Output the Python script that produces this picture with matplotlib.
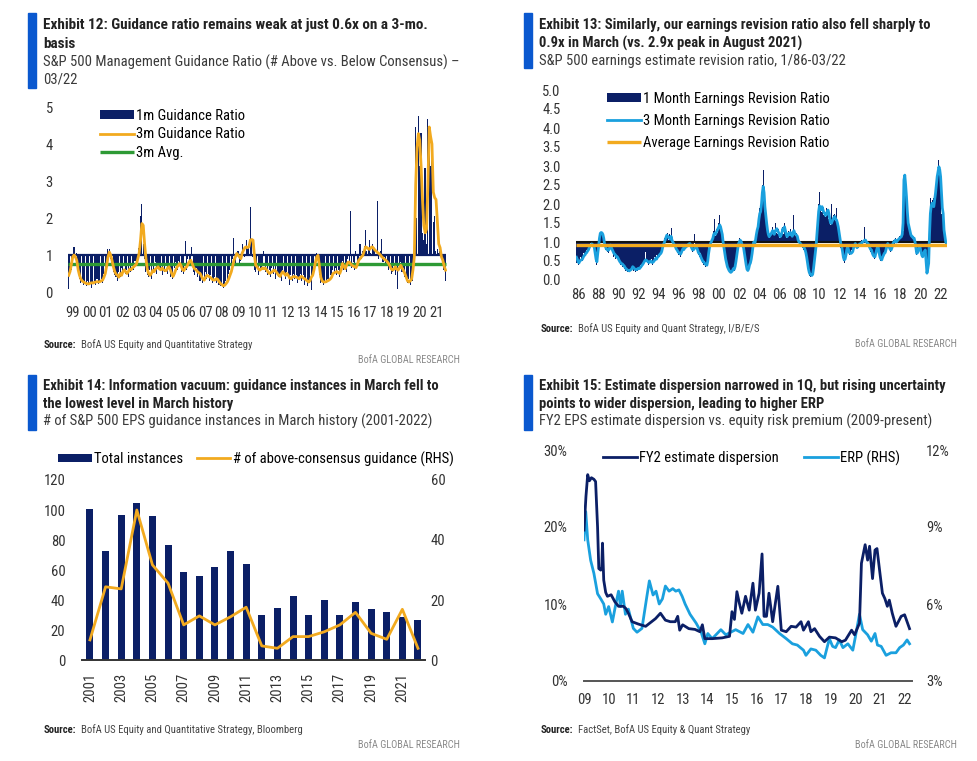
import numpy as np
import matplotlib
matplotlib.use('Agg')
import matplotlib.pyplot as plt
from matplotlib import font_manager
from matplotlib.patches import Rectangle

W, H = 978, 761

# ---------------- Exhibit 12: guidance ratio, monthly 1999-01 .. 2022-03
guide_1m = [
    0.09, 0.45, 0.60, 0.85, 1.22, 0.95, 1.05, 0.70, 0.35, 0.25, 0.30, 0.20,  # 99
    0.25, 0.15, 0.30, 0.20, 0.28, 0.12, 0.25, 0.30, 0.18, 0.35, 0.22, 0.30,  # 00
    0.35, 0.25, 0.50, 0.45, 0.85, 1.15, 1.17, 0.90, 0.70, 0.55, 0.45, 0.40,  # 01
    0.30, 0.55, 0.40, 0.65, 0.45, 0.70, 0.50, 0.60, 0.40, 0.75, 0.55, 0.70,  # 02
    0.60, 0.85, 0.70, 1.00, 1.20, 2.05, 2.38, 1.30, 0.90, 0.55, 0.45, 0.40,  # 03
    0.60, 0.35, 0.70, 0.55, 0.80, 0.50, 0.75, 0.60, 0.65, 0.45, 0.70, 0.55,  # 04
    0.70, 0.50, 0.75, 0.40, 0.55, 0.35, 0.65, 0.80, 0.60, 0.85, 0.70, 0.55,  # 05
    0.65, 0.50, 1.38, 0.60, 0.90, 0.75, 0.85, 1.22, 0.55, 0.45, 0.65, 0.40,  # 06
    0.55, 0.30, 0.50, 0.25, 0.40, 0.55, 0.35, 0.50, 0.30, 0.45, 0.25, 0.35,  # 07
    0.40, 0.25, 0.35, 0.20, 0.15, 0.25, 0.10, 0.20, 0.30, 0.35, 0.50, 0.60,  # 08
    0.70, 0.90, 1.47, 0.75, 1.00, 1.10, 0.70, 0.85, 1.30, 1.00, 0.95, 1.40,  # 09
    1.15, 1.30, 2.30, 1.40, 0.95, 0.60, 0.55, 0.75, 0.45, 0.70, 0.60, 0.75,  # 10
    1.10, 0.55, 0.70, 0.45, 0.60, 0.40, 0.65, 0.50, 0.70, 0.35, 0.55, 0.40,  # 11
    0.50, 0.30, 0.60, 0.45, 0.35, 0.55, 0.40, 0.20, 0.45, 0.30, 0.50, 0.35,  # 12
    0.45, 0.25, 0.40, 0.50, 0.30, 0.45, 0.20, 0.35, 0.15, 0.30, 0.25, 0.05,  # 13
    0.50, 0.70, 0.85, 1.05, 0.95, 0.45, 0.25, 0.35, 0.20, 0.30, 0.25, 0.35,  # 14
    0.30, 0.45, 0.35, 0.60, 0.50, 0.65, 0.45, 0.60, 0.40, 0.75, 0.85, 0.60,  # 15
    0.70, 0.55, 0.90, 0.75, 2.18, 0.65, 0.80, 0.60, 1.10, 0.70, 0.85, 1.30,  # 16
    0.90, 1.10, 1.25, 1.68, 1.10, 1.20, 1.40, 1.05, 1.30, 1.15, 1.20, 1.00,  # 17
    2.45, 0.90, 1.10, 1.44, 0.80, 0.95, 0.70, 0.85, 0.60, 0.75, 0.50, 0.55,  # 18
    0.70, 0.45, 0.75, 0.09, 0.60, 0.80, 0.55, 0.65, 0.40, 0.30, 0.25, 0.35,  # 19
    0.20, 0.45, 0.30, 1.00, 4.45, 2.00, 4.77, 3.40, 4.30, 1.60, 1.40, 3.36,  # 20
    1.30, 4.68, 4.50, 3.40, 4.05, 1.90, 2.05, 1.10, 1.15, 1.05, 1.10, 1.00,  # 21
    0.70, 0.60, 0.30,                                                        # 22
]
guide_3m = [
    0.45, 0.55, 0.75, 0.95, 1.00, 0.95, 0.85, 0.60, 0.45, 0.35, 0.30, 0.27,
    0.25, 0.23, 0.22, 0.22, 0.24, 0.25, 0.24, 0.26, 0.27, 0.28, 0.27, 0.28,
    0.30, 0.32, 0.40, 0.50, 0.70, 0.95, 1.08, 1.00, 0.85, 0.68, 0.55, 0.48,
    0.45, 0.40, 0.50, 0.45, 0.55, 0.60, 0.55, 0.50, 0.55, 0.62, 0.60, 0.65,
    0.68, 0.72, 0.75, 0.90, 1.05, 1.40, 1.85, 1.80, 1.30, 0.90, 0.62, 0.50,
    0.45, 0.50, 0.58, 0.55, 0.62, 0.65, 0.68, 0.62, 0.60, 0.65, 0.60, 0.58,
    0.58, 0.65, 0.68, 0.60, 0.50, 0.42, 0.50, 0.60, 0.68, 0.72, 0.77, 0.70,
    0.60, 0.58, 0.65, 0.68, 0.75, 0.82, 0.86, 0.78, 0.68, 0.62, 0.60, 0.55,
    0.52, 0.50, 0.42, 0.35, 0.32, 0.40, 0.45, 0.43, 0.41, 0.38, 0.34, 0.32,
    0.33, 0.36, 0.34, 0.28, 0.23, 0.20, 0.17, 0.18, 0.22, 0.27, 0.35, 0.45,
    0.55, 0.70, 0.86, 0.95, 1.04, 1.00, 0.95, 0.90, 1.05, 1.13, 1.20, 1.22,
    1.20, 1.22, 1.40, 1.42, 1.40, 1.00, 0.72, 0.68, 0.62, 0.59, 0.62, 0.65,
    0.63, 0.65, 0.60, 0.55, 0.50, 0.52, 0.54, 0.58, 0.59, 0.55, 0.50, 0.45,
    0.42, 0.50, 0.55, 0.50, 0.45, 0.50, 0.45, 0.38, 0.36, 0.40, 0.42, 0.41,
    0.40, 0.38, 0.36, 0.41, 0.42, 0.38, 0.36, 0.33, 0.30, 0.27, 0.30, 0.40,
    0.45, 0.60, 0.80, 0.95, 0.99, 0.70, 0.40, 0.30, 0.27, 0.27, 0.28, 0.30,
    0.32, 0.35, 0.40, 0.50, 0.52, 0.54, 0.55, 0.52, 0.50, 0.60, 0.77, 0.70,
    0.63, 0.72, 0.80, 0.81, 0.76, 0.72, 0.70, 0.68, 0.66, 0.75, 0.86, 0.90,
    0.95, 0.99, 1.10, 1.22, 1.20, 1.17, 1.15, 1.20, 1.22, 1.18, 1.13, 1.10,
    1.06, 1.04, 1.00, 0.95, 0.92, 0.88, 0.86, 0.82, 0.77, 0.70, 0.62, 0.59,
    0.62, 0.68, 0.62, 0.59, 0.65, 0.72, 0.65, 0.58, 0.50, 0.40, 0.30, 0.27,
    0.30, 0.35, 0.60, 0.95, 2.90, 3.90, 4.28, 4.10, 3.40, 2.50, 1.80, 1.60,
    1.70, 2.90, 4.46, 4.20, 4.00, 2.70, 2.55, 2.50, 1.90, 1.30, 1.20, 0.95,
    0.86, 0.70, 0.59,
]
guide_avg = 0.77
guide_labels = ['99'] + ['%02d' % y for y in range(0, 22)]

# ---------------- Exhibit 13: earnings revision ratio, monthly 1986-01 .. 2022-03
rev_1m = [
    0.45, 0.60, 0.40, 0.50, 0.45, 0.60, 0.55, 0.50, 0.70, 0.60, 0.75, 0.65,  # 86
    0.80, 0.70, 0.85, 0.80, 0.95, 1.00, 0.90, 1.02, 0.85, 0.90, 0.50, 0.45,  # 87
    0.40, 0.85, 0.95, 1.20, 1.25, 1.22, 1.25, 1.15, 1.05, 0.90, 0.80, 0.85,  # 88
    0.75, 0.90, 0.70, 0.95, 0.85, 0.80, 0.75, 0.60, 0.70, 0.65, 0.55, 0.60,  # 89
    0.55, 0.60, 0.45, 0.50, 0.40, 0.45, 0.35, 0.40, 0.30, 0.35, 0.25, 0.30,  # 90
    0.20, 0.25, 0.20, 0.30, 0.22, 0.35, 0.30, 0.25, 0.30, 0.22, 0.25, 0.30,  # 91
    0.25, 0.35, 0.28, 0.40, 0.32, 0.45, 0.40, 0.50, 0.45, 0.75, 0.50, 0.45,  # 92
    0.50, 0.40, 0.50, 0.45, 0.55, 0.40, 0.50, 0.45, 0.60, 0.50, 0.65, 0.55,  # 93
    0.65, 0.60, 0.72, 0.65, 0.80, 0.90, 0.95, 1.10, 1.00, 1.20, 1.15, 1.25,  # 94
    1.05, 1.20, 1.10, 1.38, 1.00, 1.05, 0.90, 0.95, 0.85, 0.80, 0.75, 0.70,  # 95
    0.65, 0.75, 0.60, 0.80, 0.75, 0.90, 0.85, 0.80, 0.90, 0.85, 0.95, 0.90,  # 96
    1.00, 0.90, 0.95, 0.80, 0.75, 0.85, 1.20, 0.80, 0.90, 0.85, 0.75, 0.65,  # 97
    0.60, 0.70, 0.55, 0.50, 0.45, 0.40, 0.50, 0.35, 0.30, 0.45, 0.60, 0.90,  # 98
    0.90, 1.00, 1.05, 1.15, 1.05, 1.30, 1.60, 1.15, 1.35, 1.25, 1.40, 1.50,  # 99
    1.70, 1.30, 1.35, 1.10, 0.90, 0.75, 0.60, 0.50, 0.40, 0.30, 0.25, 0.20,  # 00
    0.15, 0.20, 0.25, 0.20, 0.30, 0.25, 0.40, 0.55, 0.70, 0.90, 1.00, 1.10,  # 01
    1.00, 1.10, 0.90, 0.95, 0.80, 0.65, 0.50, 0.30, 0.20, 0.25, 0.35, 0.45,  # 02
    0.50, 0.60, 0.80, 1.30, 0.95, 1.00, 1.10, 1.30, 1.40, 1.50, 1.70, 1.90,  # 03
    1.90, 2.20, 2.50, 2.90, 2.10, 1.80, 1.60, 1.40, 1.25, 1.15, 1.10, 1.25,  # 04
    1.15, 1.30, 1.40, 1.20, 1.30, 1.50, 2.06, 1.25, 1.20, 1.35, 1.10, 1.20,  # 05
    1.25, 1.30, 1.40, 1.20, 1.50, 1.25, 1.10, 1.20, 1.25, 1.30, 1.15, 1.35,  # 06
    1.15, 1.25, 1.30, 1.70, 1.20, 1.15, 1.25, 1.10, 1.00, 1.05, 0.95, 0.90,  # 07
    0.90, 0.85, 0.80, 0.90, 0.75, 0.65, 0.55, 0.40, 0.25, 0.10, 0.08, 0.10,  # 08
    0.15, 0.20, 0.40, 0.60, 0.85, 1.00, 1.40, 1.70, 2.00, 2.32, 1.85, 1.80,  # 09
    1.90, 1.80, 1.70, 1.80, 1.65, 1.90, 1.85, 1.70, 1.60, 1.55, 1.45, 2.00,  # 10
    1.50, 1.70, 1.60, 1.75, 1.55, 1.90, 1.45, 1.30, 1.15, 1.00, 0.85, 0.80,  # 11
    0.60, 0.50, 0.45, 0.60, 0.70, 0.85, 0.90, 0.75, 0.65, 0.70, 0.65, 0.80,  # 12
    0.80, 0.90, 1.00, 0.90, 0.85, 0.80, 0.95, 0.85, 1.00, 0.90, 1.05, 0.95,  # 13
    1.00, 1.05, 1.40, 1.00, 0.95, 1.00, 0.90, 0.85, 0.90, 0.75, 0.80, 0.65,  # 14
    0.60, 0.55, 0.65, 0.75, 0.85, 0.95, 0.80, 0.65, 0.55, 0.50, 0.60, 0.55,  # 15
    0.60, 0.75, 0.70, 0.85, 0.95, 1.00, 0.90, 0.80, 0.75, 0.85, 0.90, 1.00,  # 16
    1.05, 0.95, 1.10, 1.00, 1.05, 1.10, 1.05, 1.15, 1.10, 1.20, 1.40, 1.30,  # 17
    5.00, 2.50, 2.30, 1.90, 1.60, 1.40, 1.45, 1.25, 1.15, 1.20, 1.10, 1.05,  # 18
    1.00, 0.90, 0.75, 0.65, 0.80, 0.85, 0.95, 0.80, 0.70, 0.60, 0.65, 0.75,  # 19
    0.80, 0.70, 0.30, 0.05, 0.35, 0.60, 1.50, 2.15, 2.00, 2.10, 1.90, 2.15,  # 20
    2.20, 2.30, 2.60, 2.80, 3.00, 3.15, 2.80, 2.60, 1.75, 1.70, 1.60, 1.20,  # 21
    1.10, 0.95, 0.90,                                                        # 22
]
rev_3m = [
    0.60, 0.55, 0.48, 0.45, 0.50, 0.52, 0.53, 0.55, 0.60, 0.64, 0.66, 0.70,
    0.72, 0.76, 0.79, 0.85, 0.90, 0.92, 0.95, 0.93, 0.90, 0.85, 0.70, 0.55,
    0.48, 0.70, 0.88, 1.10, 1.23, 1.25, 1.24, 1.20, 1.10, 0.95, 0.88, 0.82,
    0.80, 0.78, 0.79, 0.85, 0.92, 0.85, 0.80, 0.75, 0.70, 0.68, 0.65, 0.61,
    0.61, 0.57, 0.52, 0.48, 0.45, 0.43, 0.42, 0.39, 0.37, 0.33, 0.30, 0.28,
    0.26, 0.25, 0.24, 0.26, 0.27, 0.30, 0.35, 0.33, 0.30, 0.28, 0.27, 0.28,
    0.30, 0.31, 0.30, 0.33, 0.36, 0.39, 0.42, 0.46, 0.50, 0.53, 0.52, 0.50,
    0.48, 0.46, 0.47, 0.50, 0.48, 0.46, 0.47, 0.50, 0.53, 0.57, 0.55, 0.60,
    0.62, 0.65, 0.68, 0.70, 0.75, 0.85, 0.93, 0.98, 1.05, 1.12, 1.18, 1.15,
    1.12, 1.10, 1.08, 1.15, 1.05, 1.00, 0.96, 0.92, 0.88, 0.82, 0.79, 0.75,
    0.72, 0.70, 0.68, 0.72, 0.78, 0.83, 0.80, 0.85, 0.86, 0.88, 0.90, 0.93,
    0.95, 0.96, 0.92, 0.85, 0.80, 0.79, 0.82, 0.85, 0.88, 0.86, 0.80, 0.72,
    0.70, 0.66, 0.60, 0.55, 0.50, 0.48, 0.45, 0.42, 0.40, 0.39, 0.50, 0.70,
    0.85, 0.95, 1.00, 1.05, 1.10, 1.20, 1.23, 1.20, 1.25, 1.30, 1.35, 1.40,
    1.45, 1.40, 1.30, 1.20, 1.00, 0.85, 0.70, 0.55, 0.45, 0.35, 0.30, 0.25,
    0.22, 0.20, 0.22, 0.25, 0.30, 0.28, 0.35, 0.48, 0.65, 0.80, 0.95, 1.00,
    1.05, 1.02, 0.95, 0.90, 0.85, 0.70, 0.55, 0.40, 0.28, 0.25, 0.30, 0.40,
    0.45, 0.55, 0.70, 0.88, 1.00, 0.95, 1.05, 1.20, 1.32, 1.40, 1.60, 1.75,
    1.80, 2.00, 2.30, 2.46, 2.30, 1.93, 1.70, 1.50, 1.32, 1.20, 1.14, 1.18,
    1.20, 1.25, 1.30, 1.25, 1.20, 1.28, 1.32, 1.35, 1.30, 1.25, 1.20, 1.14,
    1.18, 1.25, 1.35, 1.30, 1.40, 1.30, 1.20, 1.14, 1.18, 1.23, 1.20, 1.25,
    1.20, 1.15, 1.25, 1.30, 1.23, 1.20, 1.18, 1.15, 1.05, 1.00, 0.98, 0.95,
    0.92, 0.90, 0.88, 0.85, 0.80, 0.72, 0.60, 0.45, 0.30, 0.20, 0.15, 0.13,
    0.12, 0.15, 0.30, 0.50, 0.70, 0.90, 1.20, 1.50, 1.80, 1.95, 1.90, 1.85,
    1.93, 1.85, 1.78, 1.75, 1.70, 1.72, 1.80, 1.84, 1.75, 1.60, 1.50, 1.49,
    1.55, 1.60, 1.65, 1.67, 1.60, 1.58, 1.50, 1.40, 1.25, 1.10, 0.95, 0.88,
    0.75, 0.60, 0.53, 0.55, 0.65, 0.80, 0.88, 0.80, 0.72, 0.70, 0.70, 0.72,
    0.75, 0.85, 0.92, 0.96, 0.90, 0.85, 0.88, 0.90, 0.95, 0.92, 0.96, 1.00,
    1.00, 1.02, 1.05, 1.05, 1.00, 0.98, 0.96, 0.90, 0.85, 0.80, 0.79, 0.70,
    0.65, 0.62, 0.61, 0.70, 0.80, 0.88, 0.85, 0.70, 0.60, 0.55, 0.53, 0.60,
    0.65, 0.70, 0.72, 0.80, 0.90, 0.96, 0.92, 0.85, 0.80, 0.79, 0.85, 0.95,
    1.00, 1.02, 1.05, 1.00, 1.02, 1.05, 1.08, 1.10, 1.12, 1.14, 1.20, 1.50,
    2.63, 2.76, 2.50, 2.19, 1.80, 1.50, 1.40, 1.30, 1.20, 1.15, 1.14, 1.10,
    1.10, 1.00, 0.85, 0.70, 0.72, 0.80, 0.88, 0.85, 0.75, 0.65, 0.61, 0.70,
    0.75, 0.79, 0.50, 0.18, 0.30, 0.44, 1.20, 1.75, 1.95, 2.02, 1.95, 1.93,
    2.10, 2.28, 2.50, 2.72, 2.85, 2.98, 2.90, 2.72, 2.30, 1.90, 1.75, 1.32,
    1.15, 1.00, 0.96,
]
rev_avg = 0.92
rev_labels = ['%02d' % (y % 100) for y in range(1986, 2023, 2)]

# ---------------- Exhibit 14: March guidance instances
march_years = list(range(2001, 2023))
total_instances = [101, 73, 97, 105, 96, 77, 59, 56, 62, 73, 64, 30,
                   35, 43, 30, 40, 30, 39, 34, 32, 29, 27]
above_consensus = [6.7, 24.4, 23.7, 50, 31.7, 25.6, 11.7, 14.7, 11.7, 14.4, 17.6,
                   4.7, 3.9, 7.8, 7.8, 9.4, 11.7, 15.9, 8.9, 6.9, 16.9, 3.9]

# ---------------- Exhibit 15: dispersion vs ERP (decimal year, %)
disp_pts = [
    (2009.00, 19.6), (2009.08, 24.0), (2009.15, 26.8), (2009.22, 26.0), (2009.30, 26.4),
    (2009.40, 26.2), (2009.47, 25.9), (2009.55, 20.0), (2009.60, 14.6), (2009.68, 14.4),
    (2009.72, 14.8), (2009.75, 17.9), (2009.80, 13.1), (2009.88, 11.5), (2009.95, 11.0),
    (2010.10, 11.2), (2010.25, 10.3), (2010.40, 9.7), (2010.60, 9.7), (2010.70, 9.4),
    (2010.80, 8.8), (2010.95, 7.7), (2011.20, 7.4), (2011.50, 7.1), (2011.70, 7.6),
    (2011.90, 8.1), (2012.10, 8.8), (2012.30, 7.9), (2012.50, 7.7), (2012.70, 7.7),
    (2012.80, 8.4), (2012.88, 6.6), (2013.00, 7.3), (2013.25, 6.8), (2013.50, 6.7),
    (2013.70, 6.4), (2013.80, 7.3), (2013.90, 5.5), (2014.20, 5.5), (2014.60, 5.6),
    (2014.90, 5.8), (2015.00, 9.0), (2015.10, 8.0), (2015.20, 11.6), (2015.30, 10.1),
    (2015.40, 8.8), (2015.55, 11.0), (2015.70, 9.2), (2015.85, 12.7), (2015.95, 9.2),
    (2016.10, 11.4), (2016.22, 16.5), (2016.30, 8.4), (2016.40, 8.4), (2016.50, 11.4),
    (2016.65, 7.7), (2016.86, 12.3), (2017.00, 6.6), (2017.20, 6.4), (2017.40, 7.1),
    (2017.60, 7.0), (2017.80, 7.7), (2017.90, 6.6), (2018.10, 7.7), (2018.20, 6.4),
    (2018.35, 6.8), (2018.55, 5.8), (2018.75, 5.1), (2018.95, 5.7), (2019.20, 5.6),
    (2019.45, 5.1), (2019.60, 5.3), (2019.85, 6.6), (2019.97, 6.0), (2020.17, 7.5),
    (2020.25, 15.3), (2020.40, 17.7), (2020.50, 15.7), (2020.58, 17.5), (2020.70, 13.3),
    (2020.80, 17.0), (2020.88, 17.2), (2021.00, 14.0), (2021.10, 11.4), (2021.20, 10.7),
    (2021.30, 9.7), (2021.38, 10.5), (2021.50, 8.8), (2021.65, 7.1), (2021.86, 8.4),
    (2022.00, 8.6), (2022.20, 6.8),
]
erp_pts = [
    (2009.00, 8.5), (2009.07, 9.6), (2009.15, 8.5), (2009.27, 7.7), (2009.40, 7.2),
    (2009.55, 6.4), (2009.68, 6.2), (2009.80, 6.0), (2009.88, 5.6), (2010.00, 5.9),
    (2010.15, 5.3), (2010.27, 5.9), (2010.40, 6.5), (2010.48, 5.9), (2010.55, 6.5),
    (2010.68, 5.6), (2010.80, 5.8), (2011.00, 5.05), (2011.15, 4.9), (2011.35, 5.05),
    (2011.55, 6.3), (2011.65, 6.9), (2011.80, 6.35), (2011.92, 6.5), (2012.05, 6.0),
    (2012.18, 6.2), (2012.30, 6.7), (2012.45, 6.5), (2012.60, 6.6), (2012.72, 6.5),
    (2012.85, 6.55), (2012.98, 6.3), (2013.10, 6.0), (2013.30, 5.6), (2013.55, 5.25),
    (2013.75, 4.9), (2013.90, 4.45), (2014.02, 4.85), (2014.20, 4.65), (2014.40, 4.85),
    (2014.55, 5.0), (2014.75, 4.8), (2014.95, 4.9), (2015.15, 5.0), (2015.45, 4.85),
    (2015.65, 5.2), (2015.85, 4.9), (2016.05, 5.5), (2016.25, 5.2), (2016.45, 5.2),
    (2016.65, 5.1), (2016.93, 4.85), (2017.20, 4.65), (2017.45, 4.45), (2017.65, 4.4),
    (2017.90, 4.2), (2018.00, 4.0), (2018.20, 4.25), (2018.40, 4.2), (2018.60, 4.0),
    (2018.75, 3.9), (2018.95, 4.65), (2019.08, 4.35), (2019.20, 4.3), (2019.35, 4.6),
    (2019.50, 4.3), (2019.70, 4.45), (2019.90, 4.2), (2020.00, 4.7), (2020.17, 5.6),
    (2020.30, 5.0), (2020.50, 4.8), (2020.65, 4.55), (2020.80, 4.85), (2020.90, 4.4),
    (2021.05, 4.35), (2021.25, 4.0), (2021.45, 4.1), (2021.65, 4.1), (2021.80, 4.3),
    (2021.95, 4.4), (2022.10, 4.6), (2022.20, 4.45),
]
erp_years = list(range(2009, 2023))

# ---------------- style
NAVY = '#0B1F66'
LBLUE = '#1AA0DE'
GOLD = '#F2AA1F'
GREEN = '#2E9A35'
BAR_BLUE = '#0A58CF'
TXT = '#222222'
TICK = '#333333'

names = {f.name for f in font_manager.fontManager.ttflist}
FONT = next((n for n in ['Roboto Condensed', 'Liberation Sans Narrow', 'Open Sans Condensed']
             if n in names), 'Roboto')
plt.rcParams['font.family'] = [FONT, 'DejaVu Sans']

fig = plt.figure(figsize=(W / 100, H / 100), dpi=100)


def fx(x):
    return x / W


def fy(y):
    return 1 - y / H


def box(l, t, r, b):
    return [fx(l), fy(b), (r - l) / W, (b - t) / H]


def header(x0, ytop, ybot, titles, subs, tsize=10.5):
    fig.patches.append(Rectangle((fx(x0), fy(ybot)), 8 / W, (ybot - ytop) / H,
                                 transform=fig.transFigure, color=BAR_BLUE))
    for txt, y in titles:
        fig.text(fx(x0 + 15), fy(y), txt, fontsize=tsize, fontweight='bold',
                 color=TXT, va='center')
    for txt, y in subs:
        fig.text(fx(x0 + 15), fy(y), txt, fontsize=10.5, color='#3a3a3a', va='center')


def footer(x0, y_src, src, x_right, y_gr):
    fig.text(fx(x0), fy(y_src), 'Source:', fontsize=7.7, fontweight='bold',
             color=TXT, va='center')
    fig.text(fx(x0 + 37), fy(y_src), src, fontsize=7.7, color='#444444', va='center')
    fig.text(fx(x_right), fy(y_gr), 'BofA GLOBAL RESEARCH', fontsize=7.4,
             color='#8a8a8a', va='center', ha='right')


def clean(ax):
    for s in ax.spines.values():
        s.set_visible(False)
    ax.tick_params(length=0, labelsize=10.5, colors=TICK)


# ================= Exhibit 12
header(28, 13, 88,
       [('Exhibit 12: Guidance ratio remains weak at just 0.6x on a 3-mo.', 25), ('basis', 44)],
       [('S&P 500 Management Guidance Ratio (# Above vs. Below Consensus) \u2013', 62),
        ('03/22', 79)], tsize=11)
ax1 = fig.add_axes(box(68, 107, 447, 292))
t1 = 1999 + np.arange(len(guide_1m)) / 12
ax1.bar(t1, np.array(guide_1m) - 1, bottom=1, width=0.8 / 12, align='edge',
        color=NAVY, linewidth=0, label='1m Guidance Ratio')
ax1.hlines(1, t1[0], t1[-1] + 1 / 12, color=NAVY, lw=1.6)
ax1.plot(t1 + 0.5 / 12, guide_3m, color=GOLD, lw=2.0, label='3m Guidance Ratio', zorder=4)
ax1.hlines(guide_avg, t1[0], t1[-1] + 1 / 12, color=GREEN, lw=2.4, label='3m Avg.', zorder=3)
ax1.set_xlim(1999, 2022.3)
ax1.set_ylim(0, 5)
ax1.set_yticks(range(6))
ax1.set_xticks(np.linspace(1999.3, 2021.65, len(guide_labels)))
ax1.set_xticklabels(guide_labels)
clean(ax1)
ax1.tick_params(axis='y', pad=11)
ax1.tick_params(axis='x', pad=10)
h, l = ax1.get_legend_handles_labels()
order = [l.index('1m Guidance Ratio'), l.index('3m Guidance Ratio'), l.index('3m Avg.')]
ax1.legend([h[i] for i in order], [l[i] for i in order], loc='upper left',
           bbox_to_anchor=(fx(100), fy(109)), bbox_transform=fig.transFigure,
           frameon=False, fontsize=10.5, handlelength=2.3, handleheight=0.55,
           handletextpad=0.2, labelspacing=0.3, borderpad=0, borderaxespad=0)
footer(44, 345, 'BofA US Equity and Quantitative Strategy', 460, 360)

# ================= Exhibit 13
header(524, 13, 68,
       [('Exhibit 13: Similarly, our earnings revision ratio also fell sharply to', 25),
        ('0.9x in March (vs. 2.9x peak in August 2021)', 43)],
       [('S&P 500 earnings estimate revision ratio, 1/86-03/22', 61)])
ax2 = fig.add_axes(box(576, 90, 947, 280))
t2 = 1986 + np.arange(len(rev_1m)) / 12
ax2.bar(t2, np.array(rev_1m) - 1, bottom=1, width=1 / 12, align='edge',
        color=NAVY, linewidth=0, label='1 Month Earnings Revision Ratio')
ax2.hlines(1, t2[0], t2[-1] + 1 / 12, color='#111111', lw=1.5)
ax2.plot(t2 + 0.5 / 12, rev_3m, color=LBLUE, lw=2.0, label='3 Month Earnings Revision Ratio')
ax2.hlines(rev_avg, t2[0], t2[-1] + 1 / 12, color=GOLD, lw=2.4,
           label='Average Earnings Revision Ratio', zorder=4)
ax2.set_xlim(1986, 2022.25)
ax2.set_ylim(0, 5)
ax2.set_yticks(np.arange(0, 5.01, 0.5))
ax2.set_yticklabels(['%.1f' % v for v in np.arange(0, 5.01, 0.5)])
ax2.set_xticks(np.linspace(1986.2, 2021.6, len(rev_labels)))
ax2.set_xticklabels(rev_labels)
clean(ax2)
ax2.tick_params(axis='y', pad=11)
ax2.tick_params(axis='x', pad=6)
h, l = ax2.get_legend_handles_labels()
want = ['1 Month Earnings Revision Ratio', '3 Month Earnings Revision Ratio',
        'Average Earnings Revision Ratio']
ax2.legend([h[l.index(w)] for w in want], want, loc='upper left',
           bbox_to_anchor=(fx(607), fy(92)), bbox_transform=fig.transFigure,
           frameon=False, fontsize=10.5, handlelength=2.3, handleheight=0.55,
           handletextpad=0.2, labelspacing=0.55, borderpad=0, borderaxespad=0)
footer(541, 329, 'BofA US Equity and Quant Strategy, I/B/E/S', 957, 344)

# ================= Exhibit 14
header(28, 375, 430,
       [('Exhibit 14: Information vacuum: guidance instances in March fell to', 386),
        ('the lowest level in March history', 404)],
       [('# of S&P 500 EPS guidance instances in March history (2001-2022)', 421)])
ax3 = fig.add_axes(box(82, 480, 425, 660))
ax3.bar(march_years, total_instances, width=0.45, color=NAVY, label='Total instances')
ax3.set_xlim(2000.49, 2022.45)
ax3.set_ylim(0, 120)
ax3.set_yticks(range(0, 121, 20))
ax3.set_xticks(march_years[::2])
ax3.set_xticklabels([str(y) for y in march_years[::2]], rotation=90)
clean(ax3)
ax3.spines['bottom'].set_visible(True)
ax3.spines['bottom'].set_color('#333333')
ax3.spines['bottom'].set_linewidth(1.4)
ax3.tick_params(axis='y', pad=12)
ax3.tick_params(axis='x', pad=9)
ax3b = ax3.twinx()
ax3b.plot(march_years, above_consensus, color=GOLD, lw=2.0,
          label='# of above-consensus guidance (RHS)')
ax3b.set_ylim(0, 60)
ax3b.set_yticks(range(0, 61, 20))
clean(ax3b)
ax3b.tick_params(axis='y', pad=4)
h1, l1 = ax3.get_legend_handles_labels()
h2, l2 = ax3b.get_legend_handles_labels()
ax3b.legend(h1 + h2, l1 + l2, loc='center left', ncol=2,
            bbox_to_anchor=(fx(58), fy(459)), bbox_transform=fig.transFigure,
            frameon=False, fontsize=10.5, handlelength=2.3, handleheight=0.55,
            handletextpad=0.2, columnspacing=0.9, borderpad=0, borderaxespad=0)
footer(44, 730, 'BofA US Equity and Quantitative Strategy, Bloomberg', 460, 745)

# ================= Exhibit 15
header(524, 375, 430,
       [('Exhibit 15: Estimate dispersion narrowed in 1Q, but rising uncertainty', 386),
        ('points to wider dispersion, leading to higher ERP', 404)],
       [('FY2 EPS estimate dispersion vs. equity risk premium (2009-present)', 421)])
ax4 = fig.add_axes(box(584, 450, 912, 681))
dt, dv = zip(*disp_pts)
et, ev = zip(*erp_pts)
ax4.plot(dt, dv, color=NAVY, lw=2.0, label='FY2 estimate dispersion', zorder=3)
ax4.set_xlim(2009, 2022.3)
ax4.set_ylim(0, 30)
ax4.set_yticks([0, 10, 20, 30])
ax4.set_yticklabels(['0%', '10%', '20%', '30%'])
ax4.set_xticks(erp_years)
ax4.set_xticklabels(['%02d' % (y % 100) for y in erp_years])
clean(ax4)
ax4.spines['bottom'].set_visible(True)
ax4.spines['bottom'].set_color('#555555')
ax4.spines['bottom'].set_linewidth(1.4)
ax4.tick_params(axis='y', pad=12)
ax4.tick_params(axis='x', pad=9)
ax4b = ax4.twinx()
ax4b.plot(et, ev, color=LBLUE, lw=2.0, label='ERP (RHS)')
ax4b.set_ylim(3, 12)
ax4b.set_yticks([3, 6, 9, 12])
ax4b.set_yticklabels(['3%', '6%', '9%', '12%'])
clean(ax4b)
ax4b.tick_params(axis='y', pad=10)
ax4.set_zorder(ax4b.get_zorder() + 1)
ax4.patch.set_visible(False)
h1, l1 = ax4.get_legend_handles_labels()
h2, l2 = ax4b.get_legend_handles_labels()
ax4.legend(h1 + h2, l1 + l2, loc='center left', ncol=2,
           bbox_to_anchor=(fx(603), fy(458)), bbox_transform=fig.transFigure,
           frameon=False, fontsize=10.5, handlelength=2.3,
           handletextpad=0.2, columnspacing=1.7, borderpad=0, borderaxespad=0)
footer(541, 730, 'FactSet, BofA US Equity & Quant Strategy', 957, 745)

fig.savefig('out.png', dpi=100)
